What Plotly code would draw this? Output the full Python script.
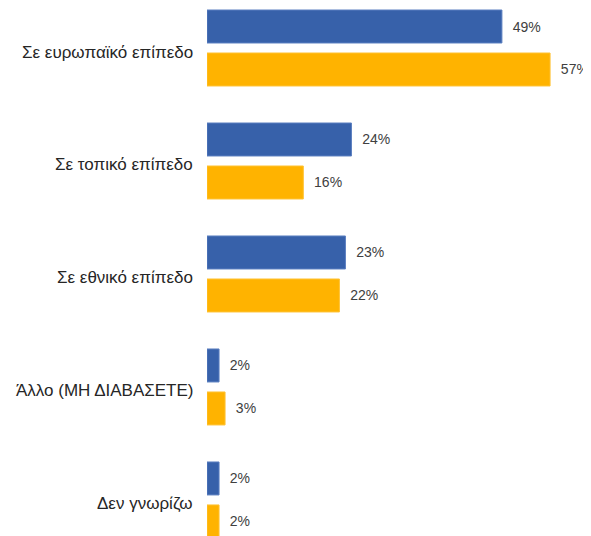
import plotly.graph_objects as go

categories = ["Σε ευρωπαϊκό επίπεδο", "Σε τοπικό επίπεδο", "Σε εθνικό επίπεδο",
              "Άλλο (ΜΗ ΔΙΑΒΑΣΕΤΕ)", "Δεν γνωρίζω"]
series_blue = [49, 24, 23, 2, 2]
series_orange = [57, 16, 22, 3, 2]

def labels(vals):
    return ["  %d%%" % v for v in vals]

fig = go.Figure()
fig.add_trace(go.Bar(y=categories, x=series_blue, orientation="h",
                     marker=dict(color="#3761AA", line=dict(color="#5B7FC0", width=1)),
                     text=labels(series_blue), textposition="outside",
                     textfont=dict(size=14, color="#404040", family="Liberation Sans"),
                     cliponaxis=False, name="A"))
fig.add_trace(go.Bar(y=categories, x=series_orange, orientation="h",
                     marker=dict(color="#FFB300", line=dict(color="#FFC233", width=1)),
                     text=labels(series_orange), textposition="outside",
                     textfont=dict(size=14, color="#404040", family="Liberation Sans"),
                     cliponaxis=False, name="B"))

for c in categories:
    fig.add_annotation(x=0, xref="paper", y=c, yref="y", text=c, showarrow=False,
                       xanchor="right", yanchor="middle", xshift=-12, yshift=-4,
                       font=dict(size=17, color="#262626", family="Liberation Sans"))

fig.update_layout(
    width=583, height=528,
    margin=dict(l=199, r=0, t=0, b=0, pad=0),
    barmode="group", bargap=0.239, bargroupgap=0.233,
    plot_bgcolor="white", paper_bgcolor="white",
    showlegend=False,
    font=dict(family="Liberation Sans", color="#262626"),
)
fig.update_xaxes(range=[0, 63.8], visible=False, showgrid=False, zeroline=False,
                 automargin=False)
fig.update_yaxes(type="category", range=[4.319, -0.354], showgrid=False, zeroline=False,
                 showline=False, ticks="", showticklabels=False, automargin=False)

fig.write_html("out.html")
